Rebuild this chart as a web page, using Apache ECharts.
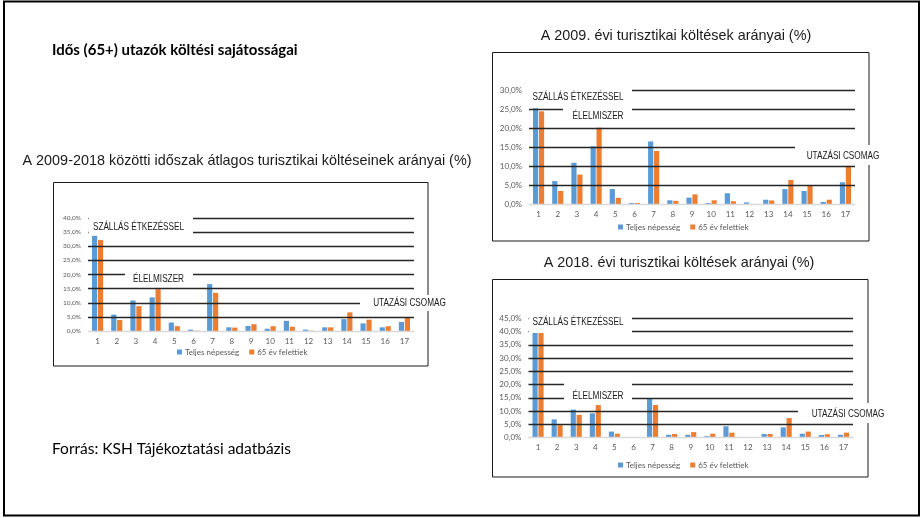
<!DOCTYPE html>
<html>
<head>
<meta charset="utf-8">
<script src="https://cdn.jsdelivr.net/npm/echarts@6/dist/echarts.min.js"></script>
<style>
  html, body { margin: 0; padding: 0; background: #fff; }
  #c { width: 921px; height: 518px; }
</style>
</head>
<body>
<div id="c"></div>
<script>
// Spending categories (1-17) and the two population groups
const categories = ['1','2','3','4','5','6','7','8','9','10','11','12','13','14','15','16','17'];
const groupNames = ['Teljes népesség', '65 év felettiek'];

// 2009-2018 average shares (%)
const avgTotal  = [33.7, 5.8, 10.8, 11.9, 3.0, 0.5, 16.6, 1.3, 1.8, 0.8, 3.6, 0.5, 1.3, 4.2, 2.7, 1.3, 3.2];
const avgSenior = [32.2, 3.9,  8.8, 14.8, 1.7, 0.1, 13.5, 1.2, 2.4, 1.7, 1.5, 0.1, 1.3, 6.6, 4.0, 1.7, 4.6];

// 2009 shares (%)
const y2009Total  = [25.2, 6.1, 10.9, 15.2, 4.0, 0.35, 16.5, 1.05, 1.75, 0.35, 2.9, 0.5, 1.2, 4.0, 3.5, 0.6, 5.8];
const y2009Senior = [24.4, 3.5,  7.8, 20.1, 1.7, 0.35, 14.0, 0.9,  2.6,  1.05, 0.8, 0.1, 1.0, 6.4, 4.8, 1.2, 10.1];

// 2018 shares (%)
const y2018Total  = [39.7, 6.9, 10.6,  9.2, 2.3, 0.25, 14.8, 1.1, 1.1, 0.6, 4.3, 0.25, 1.4, 3.9, 1.5, 1.0, 1.1];
const y2018Senior = [39.8, 4.7,  8.6, 12.3, 1.5, 0.1,  12.3, 1.4, 2.1, 1.5, 1.9, 0.1,  1.4, 7.4, 2.3, 1.3, 1.9];

// Value axis ranges (max, step)
const axisAvg  = [40, 5];
const axis2009 = [30, 5];
const axis2018 = [45, 5];

// Texts
const slideTitle = 'Idős (65+) utazók költési sajátosságai';
const sourceText = 'Forrás: KSH Tájékoztatási adatbázis';
const titleAvg  = 'A 2009-2018 közötti időszak átlagos turisztikai költéseinek arányai (%)';
const title2009 = 'A 2009. évi turisztikai költések arányai (%)';
const title2018 = 'A 2018. évi turisztikai költések arányai (%)';
const noteLodging = 'SZÁLLÁS ÉTKEZÉSSEL';
const noteFood    = 'ÉLELMISZER';
const notePackage = 'UTAZÁSI CSOMAG';

const BLUE = '#5B9BD5', ORANGE = '#ED7D31';
const NARROW = 0.82;
const TITLE_SCALE = 0.96;
const AXIS_FONT = 'Lato, "Open Sans", sans-serif';
const ARIAL = '"Liberation Sans", Arial, sans-serif';

const pct = v => v.toFixed(1).replace('.', ',') + '%';

function splitColors(max, step) {
  const n = Math.round(max / step) + 1;
  const arr = ['#d9d9d9'];
  for (let i = 1; i < n; i++) arr.push('#262626');
  return arr;
}

const grids = [
  { left: 88,  top: 218,   width: 326,   height: 113 },
  { left: 529, top: 90,    width: 326,   height: 114.3 },
  { left: 528.5, top: 318.3, width: 324.5, height: 119.4 }
];
const ranges = [axisAvg, axis2009, axis2018];
const yFont = [6.5, 8, 8];

const xAxes = grids.map((g, i) => ({
  type: 'category', gridIndex: i, data: categories,
  axisLine: { lineStyle: { color: '#d9d9d9', width: 1 } },
  axisTick: { show: false },
  axisLabel: { color: '#595959', fontSize: 8, fontFamily: AXIS_FONT, margin: 6, interval: 0 }
}));
const yAxes = grids.map((g, i) => ({
  type: 'value', gridIndex: i, min: 0, max: ranges[i][0], interval: ranges[i][1], z: 3,
  axisLine: { show: false }, axisTick: { show: false },
  axisLabel: { color: '#595959', fontSize: yFont[i], fontFamily: AXIS_FONT, margin: 7, formatter: pct },
  splitLine: { show: true, lineStyle: { color: splitColors(ranges[i][0], ranges[i][1]), width: 1.3 } }
}));

const pairs = [[avgTotal, avgSenior], [y2009Total, y2009Senior], [y2018Total, y2018Senior]];
const series = [];
pairs.forEach((p, i) => {
  [0, 1].forEach(k => {
    series.push({
      type: 'bar', name: groupNames[k], xAxisIndex: i, yAxisIndex: i,
      data: p[k], barGap: '15%', barCategoryGap: '42%',
      itemStyle: { color: k ? ORANGE : BLUE },
      emphasis: { disabled: true }, animation: false
    });
  });
});

const legendPos = [[177, 348], [618, 223], [618, 461]];
const legends = legendPos.map(pos => ({
  left: pos[0], top: pos[1], itemWidth: 5, itemHeight: 5, itemGap: 10,
  icon: 'rect', padding: 0,
  textStyle: { color: '#595959', fontSize: 8, fontFamily: AXIS_FONT, padding: [0, 0, 0, -2] },
  data: groupNames, selectedMode: false
}));

function frame(x, y, w, h) {
  return { type: 'rect', z: 5, shape: { x, y, width: w, height: h },
           style: { fill: null, stroke: '#1a1a1a', lineWidth: 1 } };
}
function whiteBox(x, y, w, h) {
  return { type: 'rect', z: 20, shape: { x, y, width: w, height: h },
           style: { fill: '#fff', stroke: null } };
}
function scaledText(text, cx, cy, size, scale) {
  return { type: 'text', z: 21, x: cx, y: cy, scaleX: scale,
           style: { text, x: 0, y: 0, fill: '#1a1a1a', font: size + 'px ' + ARIAL,
                    align: 'center', verticalAlign: 'middle',
                    textAlign: 'center', textVerticalAlign: 'middle' } };
}
function plainText(text, x, cy, font) {
  return { type: 'text', z: 21, x, y: cy,
           style: { text, x: 0, y: 0, fill: '#000', font, align: 'left', verticalAlign: 'middle',
                    textAlign: 'left', textVerticalAlign: 'middle' } };
}

const graphics = [
  // slide border
  { type: 'rect', z: 30, shape: { x: 4, y: 1.5, width: 915, height: 514 },
    style: { fill: null, stroke: '#000', lineWidth: 2 } },
  plainText(slideTitle, 52, 50, 'bold 15px Lato, "Open Sans", sans-serif'),
  plainText(sourceText, 52, 449, '15.5px Lato, "Open Sans", sans-serif'),
  // chart frames
  frame(53.5, 182.5, 374.5, 183.5),
  frame(492.5, 52.5, 376.5, 188.5),
  frame(492.5, 279.5, 375.5, 197.5),
  // chart titles
  scaledText(titleAvg, 247, 161, 15, TITLE_SCALE),
  scaledText(title2009, 676, 36, 15, TITLE_SCALE),
  scaledText(title2018, 679, 263, 15, TITLE_SCALE),
  // annotations, average chart
  whiteBox(88.5, 213, 104.5, 21), scaledText(noteLodging, 138.5, 227, 10, NARROW),
  whiteBox(125, 268, 68, 17),     scaledText(noteFood, 158.5, 279, 10, NARROW),
  whiteBox(360, 295, 90, 16),     scaledText(notePackage, 409.5, 303, 10, NARROW),
  // annotations, 2009 chart
  whiteBox(529, 86, 103, 18.5),   scaledText(noteLodging, 578, 97, 10, NARROW),
  whiteBox(563, 104, 69, 20),     scaledText(noteFood, 598, 116, 10, NARROW),
  whiteBox(795, 145, 90, 20),     scaledText(notePackage, 843, 156, 10, NARROW),
  // annotations, 2018 chart
  whiteBox(529, 312, 103, 21),    scaledText(noteLodging, 578, 322, 10, NARROW),
  whiteBox(564, 382, 68, 20),     scaledText(noteFood, 598, 396, 10, NARROW),
  whiteBox(798, 403, 92, 20),     scaledText(notePackage, 848, 414, 10, NARROW)
];

const chart = echarts.init(document.getElementById('c'), null, { renderer: 'canvas' });
chart.setOption({
  animation: false,
  backgroundColor: '#fff',
  grid: grids,
  xAxis: xAxes,
  yAxis: yAxes,
  legend: legends,
  series,
  graphic: graphics
});
</script>
</body>
</html>
